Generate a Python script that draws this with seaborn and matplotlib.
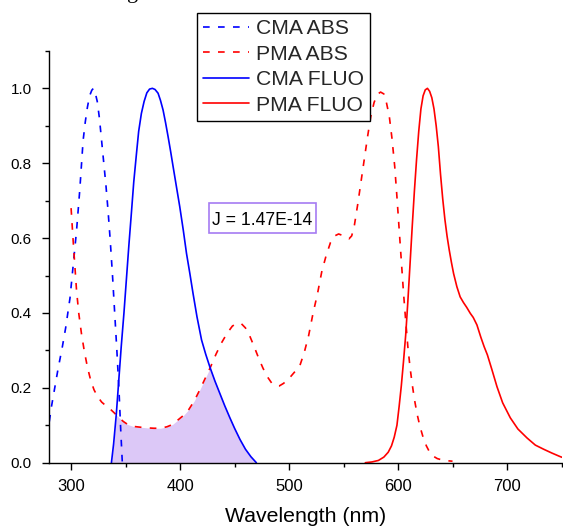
import numpy as np
import pandas as pd
import matplotlib
matplotlib.use("Agg")
import matplotlib.pyplot as plt
from matplotlib.ticker import MultipleLocator, FormatStrFormatter
from matplotlib.patches import Rectangle
import seaborn as sns

# ---------------- data ----------------
cma_abs_x = [280, 282, 285, 288, 292, 295, 299, 301, 303, 305, 308, 311, 313, 315,
             317, 319, 320.5, 322, 324, 326, 328, 330, 332, 334, 336, 338, 340, 342,
             344, 345.5, 347]
cma_abs_y = [0.11, 0.15, 0.20, 0.25, 0.31, 0.36, 0.44, 0.50, 0.56, 0.62, 0.73, 0.86,
             0.91, 0.95, 0.98, 0.995, 1.0, 0.99, 0.965, 0.92, 0.86, 0.80, 0.74, 0.67,
             0.59, 0.50, 0.40, 0.30, 0.19, 0.09, 0.0]

pma_abs_x = [300, 301.5, 303, 305, 307, 309.5, 312, 315, 318, 321, 324, 328, 332, 336,
             340, 344, 348, 352, 357, 363, 370, 376, 382, 388, 393, 398, 403, 408,
             413, 418, 423, 428, 433, 438, 443, 448, 452, 456, 460, 464, 468, 472,
             476, 480, 484, 488, 491, 495, 500, 505, 510, 514, 518, 522, 526, 530,
             534, 538, 542, 545.5, 549, 552, 555, 557.5, 560, 563, 566, 569, 572,
             575, 578, 581, 584, 587, 589.5, 592, 594.5, 597, 599, 601, 603, 605,
             607, 609, 611, 613, 615, 617.5, 620, 623, 626, 629, 632, 636, 642, 650]
pma_abs_y = [0.68, 0.61, 0.545, 0.46, 0.40, 0.345, 0.30, 0.255, 0.22, 0.195, 0.178,
             0.162, 0.152, 0.143, 0.132, 0.12, 0.11, 0.102, 0.097, 0.095, 0.093,
             0.092, 0.092, 0.096, 0.102, 0.114, 0.126, 0.142, 0.165, 0.194, 0.225,
             0.256, 0.29, 0.32, 0.345, 0.365, 0.372, 0.372, 0.36, 0.338, 0.31, 0.28,
             0.253, 0.23, 0.213, 0.205, 0.205, 0.212, 0.225, 0.242, 0.26, 0.295,
             0.34, 0.399, 0.45, 0.51, 0.553, 0.588, 0.606, 0.611, 0.607, 0.602,
             0.598, 0.606, 0.635, 0.69, 0.75, 0.81, 0.87, 0.925, 0.962, 0.984, 0.99,
             0.985, 0.96, 0.925, 0.865, 0.79, 0.71, 0.625, 0.54, 0.455, 0.38, 0.31,
             0.255, 0.21, 0.17, 0.13, 0.098, 0.068, 0.045, 0.028, 0.018, 0.011,
             0.006, 0.004]

cma_fluo_x = [337, 339, 341.5, 344, 346, 348.5, 350.7, 353, 355.3, 357.5, 360, 362,
              364.5, 367, 369.5, 372, 374.6, 377, 379.8, 382, 384.4, 386.7, 389,
              391.3, 393.6, 396.5, 399.7, 403, 405.9, 409, 411.9, 415.5, 419.7, 423.5,
              427.3, 432, 436.5, 441, 445.7, 450, 455, 460, 465, 470]
cma_fluo_y = [0.0, 0.05, 0.13, 0.23, 0.31, 0.40, 0.488, 0.58, 0.666, 0.75, 0.826,
              0.885, 0.933, 0.965, 0.988, 0.998, 1.0, 0.997, 0.987, 0.968, 0.942,
              0.908, 0.871, 0.832, 0.791, 0.74, 0.684, 0.62, 0.559, 0.505, 0.452,
              0.39, 0.328, 0.29, 0.256, 0.218, 0.185, 0.152, 0.12, 0.092, 0.062,
              0.036, 0.016, 0.0]

pma_fluo_x = [570, 576, 582, 587, 591, 594, 596.5, 599, 601, 603, 605, 607, 609, 611,
              613, 615, 617, 619, 621, 623, 625, 627, 629, 631, 633, 635, 637, 639,
              641, 643, 645, 647, 649, 651, 654, 657, 660, 663, 666.3, 669, 672.4,
              676, 679, 682, 686, 690.8, 696, 703, 710, 718.4, 726, 733.6, 741, 749, 751]
pma_fluo_y = [0.0, 0.002, 0.006, 0.015, 0.028, 0.045, 0.068, 0.10, 0.15, 0.205, 0.27,
              0.34, 0.43, 0.53, 0.63, 0.725, 0.81, 0.885, 0.945, 0.98, 0.996, 1.0,
              0.992, 0.975, 0.945, 0.90, 0.844, 0.77, 0.705, 0.65, 0.605, 0.568,
              0.535, 0.505, 0.47, 0.443, 0.428, 0.415, 0.399, 0.388, 0.368, 0.335,
              0.31, 0.288, 0.25, 0.203, 0.16, 0.12, 0.09, 0.066, 0.047, 0.036, 0.026,
              0.016, 0.014]

series_labels = ["CMA ABS", "PMA ABS", "CMA FLUO", "PMA FLUO"]
overlap_text = "J = 1.47E-14"
x_label = "Wavelength (nm)"

# ---------------- style ----------------
sns.set_theme(style="ticks")
plt.rcParams["font.family"] = ["Liberation Sans", "DejaVu Sans"]

W, H = 563, 526
AX_L, AX_R, AX_B, AX_T = 49.3, 561.5, 462.7, 50.9
XMIN, XMAX, YMIN, YMAX = 280, 750, 0, 1.1
fig = plt.figure(figsize=(W / 100, H / 100), dpi=100)
ax = fig.add_axes([AX_L / W, 1 - AX_B / H, (AX_R - AX_L) / W, (AX_B - AX_T) / H])

dash = (0, (4, 5))
lw = 1.2
blue, red = "#0000ff", "#ff0000"
sns.lineplot(x=cma_abs_x, y=cma_abs_y, ax=ax, color=blue, lw=lw,
             linestyle=dash, label=series_labels[0], estimator=None, sort=False)
sns.lineplot(x=pma_abs_x, y=pma_abs_y, ax=ax, color=red, lw=lw,
             linestyle=dash, label=series_labels[1], estimator=None, sort=False)
sns.lineplot(x=cma_fluo_x, y=cma_fluo_y, ax=ax, color=blue, lw=lw,
             label=series_labels[2], estimator=None, sort=False)
sns.lineplot(x=pma_fluo_x, y=pma_fluo_y, ax=ax, color=red, lw=lw,
             label=series_labels[3], estimator=None, sort=False)

# spectral overlap area: min of CMA FLUO and PMA ABS
grid = np.array(sorted(set(list(cma_fluo_x) +
                           [v for v in pma_abs_x if cma_fluo_x[0] <= v <= cma_fluo_x[-1]])))
f1 = np.interp(grid, cma_fluo_x, cma_fluo_y)
f2 = np.interp(grid, pma_abs_x, pma_abs_y)
ax.fill_between(grid, 0, np.minimum(f1, f2), color="#dcc8f7", lw=0, zorder=0)

ax.set_xlim(XMIN, XMAX)
ax.set_ylim(YMIN, YMAX)
ax.xaxis.set_major_locator(MultipleLocator(100))
ax.xaxis.set_minor_locator(MultipleLocator(50))
ax.yaxis.set_major_locator(MultipleLocator(0.2))
ax.yaxis.set_minor_locator(MultipleLocator(0.1))
ax.yaxis.set_major_formatter(FormatStrFormatter("%.1f"))
ax.tick_params(which="major", length=5, width=1.0, direction="out",
               color="black", labelcolor="black")
ax.tick_params(which="minor", length=2.6, width=1.0, direction="out", color="black")
ax.tick_params(axis="x", which="major", labelsize=12, pad=7)
ax.tick_params(axis="y", which="major", labelsize=11, pad=7.5)
for s in ["top", "right"]:
    ax.spines[s].set_visible(False)
for s in ["left", "bottom"]:
    ax.spines[s].set_color("black")
    ax.spines[s].set_linewidth(1.0)

ax.set_xlabel(x_label, fontsize=15.3, color="black", labelpad=9)
ax.set_ylabel("")

# annotation box with overlap integral
jx, jy = 475.7, 0.653
box_w_px, box_h_px = 106.7, 30.0
dx = box_w_px * (XMAX - XMIN) / (AX_R - AX_L)
dy = box_h_px * (YMAX - YMIN) / (AX_B - AX_T)
ax.add_patch(Rectangle((jx - dx / 2, jy - dy / 2), dx, dy, fc="white",
                       ec="#a67cf2", lw=1.2, zorder=4))
ax.text(jx, jy, overlap_text, fontsize=12.7, ha="center", va="center_baseline",
        color="black", zorder=5)

leg = ax.legend(loc="upper left", bbox_to_anchor=(196.7 / W, 1 - 12.7 / H),
                bbox_transform=fig.transFigure, fontsize=15.2, frameon=True,
                fancybox=False, edgecolor="black", framealpha=1, borderpad=0.3,
                labelspacing=0.31, handlelength=2.2, handletextpad=0.3,
                borderaxespad=0)
leg.get_frame().set_linewidth(1.0)

# remnant of a serif title just above the figure edge
fig.text(133 / W, 1 + 2 / H, "g", fontsize=16, family=["Liberation Serif", "DejaVu Serif"],
         ha="center", va="baseline", color="black")

fig.savefig("out.png", dpi=100)
